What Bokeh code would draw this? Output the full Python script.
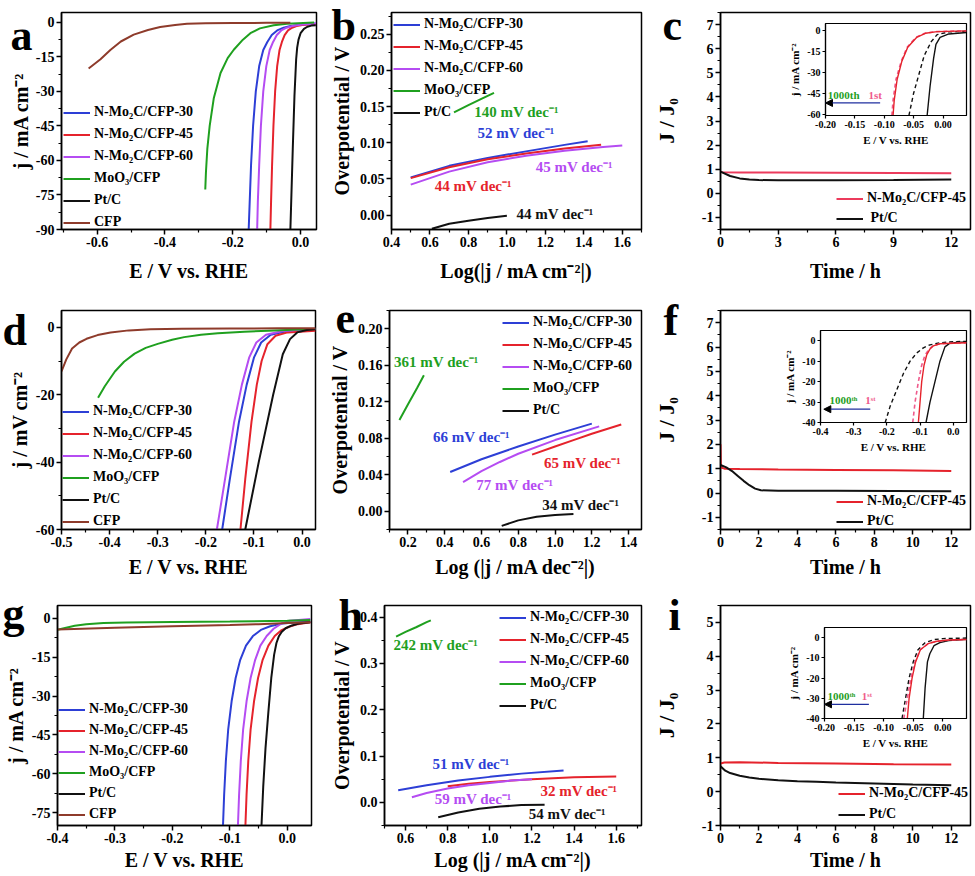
from bokeh.plotting import figure
from bokeh.models import (Range1d, FixedTicker, PrintfTickFormatter, Legend, LegendItem,
                          Label, Arrow, NormalHead, Row, Column)
from bokeh.core.properties import value
from bokeh.embed import file_html
from bokeh.resources import INLINE

FONT = "Liberation Serif"
BLUE = "#2D3FD6"
RED = "#E5232C"
PURPLE = "#B54CF2"
GREEN = "#1FA01F"
BLACK = "#111111"
BROWN = "#8E3B2B"
PINK = "#EF5A8C"
CRED = "#EC3B5C"

NAMES5 = ["N-Mo\u2082C/CFP-30", "N-Mo\u2082C/CFP-45", "N-Mo\u2082C/CFP-60", "MoO\u2083/CFP", "Pt/C"]
NAMES6 = NAMES5 + ["CFP"]
PANEL_LETTERS = ["a", "b", "c", "d", "e", "f", "g", "h", "i"]

# ---------------- panel a (LSV) ----------------
a_cfp_e = [-0.625, -0.59, -0.561, -0.53, -0.492, -0.45, -0.414, -0.37, -0.335, -0.28, -0.2, -0.1, -0.03]
a_cfp_j = [-20, -16, -12, -8.3, -5.3, -3.3, -2.0, -1.1, -0.6, -0.35, -0.25, -0.2, -0.2]
a_moo3_e = [-0.281, -0.279, -0.275, -0.268, -0.256, -0.236, -0.215, -0.197, -0.17, -0.148, -0.12, -0.079, -0.04, 0.04]
a_moo3_j = [-72.6, -65, -55, -45, -33, -22, -15.5, -11.9, -7.5, -4.7, -2.6, -1.2, -0.6, 0]
a_30_e = [-0.153, -0.150, -0.146, -0.140, -0.132, -0.122, -0.110, -0.098, -0.085, -0.069, -0.05, -0.03, 0.0, 0.045]
a_30_j = [-90, -78, -62, -45, -30, -19, -12, -8.5, -5.5, -3.5, -2.3, -1.6, -1.0, -0.5]
a_45_e = [-0.089, -0.087, -0.084, -0.080, -0.075, -0.069, -0.062, -0.055, -0.047, -0.037, -0.025, -0.012, 0.005, 0.045]
a_45_j = [-90, -78, -62, -45, -30, -19, -12, -8.5, -5.5, -3.5, -2.3, -1.6, -1.1, -0.7]
a_60_e = [-0.128, -0.126, -0.122, -0.117, -0.110, -0.101, -0.091, -0.081, -0.070, -0.057, -0.041, -0.024, -0.002, 0.045]
a_60_j = [-90, -78, -62, -45, -30, -19, -12, -8.5, -5.5, -3.5, -2.3, -1.6, -1.0, -0.5]
a_pt_e = [-0.030, -0.027, -0.023, -0.018, -0.013, -0.010, -0.006, 0.0, 0.01, 0.02, 0.032, 0.045]
a_pt_j = [-90, -75, -55, -32, -16, -11, -7.5, -4.7, -2.8, -1.9, -1.4, -1.2]

# ---------------- panel b (Tafel) ----------------
b_30_x = [0.50, 0.70, 0.90, 1.10, 1.30, 1.42]
b_30_y = [0.052, 0.068, 0.079, 0.088, 0.097, 0.102]
b_45_x = [0.50, 0.70, 0.90, 1.10, 1.30, 1.49]
b_45_y = [0.051, 0.066, 0.077, 0.085, 0.092, 0.097]
b_60_x = [0.50, 0.70, 0.90, 1.10, 1.30, 1.50, 1.60]
b_60_y = [0.042, 0.060, 0.073, 0.082, 0.089, 0.094, 0.096]
b_moo3_x = [0.725, 0.80, 0.87, 0.933]
b_moo3_y = [0.142, 0.152, 0.161, 0.169]
b_pt_x = [0.61, 0.70, 0.80, 0.90, 1.00]
b_pt_y = [-0.019, -0.012, -0.008, -0.004, -0.001]
b_slopes = ["52 mV dec\u207b\u00b9", "44 mV dec\u207b\u00b9", "45 mV dec\u207b\u00b9", "140 mV dec\u207b\u00b9", "44 mV dec\u207b\u00b9"]

# ---------------- panel c (stability) ----------------
c_mo_t = [0, 0.1, 1, 3, 6, 9, 12]
c_mo_r = [0.88, 0.87, 0.86, 0.86, 0.85, 0.84, 0.83]
c_pt_t = [0, 0.5, 1, 1.5, 2, 3, 6, 9, 12]
c_pt_r = [0.9, 0.72, 0.62, 0.57, 0.55, 0.54, 0.54, 0.55, 0.57]
ci_mo1_e = [-0.085, -0.083, -0.078, -0.070, -0.060, -0.045, -0.030, -0.010, 0.04]
ci_mo1_j = [-61, -50, -35, -22, -12, -5, -2, -0.8, -0.3]
ci_mo2_e = [-0.087, -0.085, -0.080, -0.071, -0.061, -0.046, -0.031, -0.011, 0.04]
ci_mo2_j = [-61, -50, -35, -22, -12, -5, -2, -0.8, -0.3]
ci_pt1_e = [-0.027, -0.022, -0.016, -0.012, -0.005, 0.01, 0.04]
ci_pt1_j = [-61, -40, -20, -10, -5, -2.5, -1.5]
ci_pt2_e = [-0.058, -0.050, -0.040, -0.032, -0.020, -0.010, 0.01, 0.04]
ci_pt2_j = [-61, -45, -30, -18, -8, -3, -1, -0.5]

# ---------------- panel d (LSV) ----------------
d_cfp_e = [-0.5, -0.49, -0.478, -0.463, -0.448, -0.425, -0.398, -0.36, -0.315, -0.25, -0.15, -0.05, 0.028]
d_cfp_j = [-13.1, -9.5, -6.3, -4.5, -3.4, -2.3, -1.5, -0.9, -0.55, -0.4, -0.35, -0.3, -0.3]
d_moo3_e = [-0.424, -0.41, -0.389, -0.37, -0.348, -0.325, -0.3, -0.27, -0.245, -0.21, -0.175, -0.12, -0.07, -0.02, 0.028]
d_moo3_j = [-20.9, -17.5, -13.1, -10.2, -7.8, -6.1, -4.9, -3.7, -2.9, -2.2, -1.75, -1.3, -1.0, -0.7, -0.5]
d_30_e = [-0.166, -0.150, -0.131, -0.115, -0.100, -0.085, -0.065, -0.030, 0.028]
d_30_j = [-60, -45, -28, -17, -9, -4.5, -2.2, -1.1, -0.5]
d_45_e = [-0.128, -0.118, -0.105, -0.094, -0.084, -0.072, -0.055, -0.030, 0.028]
d_45_j = [-60, -45, -28, -17, -10, -5, -2.5, -1.5, -1.0]
d_60_e = [-0.177, -0.160, -0.141, -0.125, -0.110, -0.095, -0.075, -0.040, 0.028]
d_60_j = [-60, -45, -28, -17, -9, -4.5, -2.2, -1.1, -0.4]
d_pt_e = [-0.118, -0.090, -0.060, -0.040, -0.025, -0.010, 0.010, 0.028]
d_pt_j = [-60, -40, -20, -8, -3.5, -1.5, -0.8, -0.6]

# ---------------- panel e (Tafel) ----------------
e_30_x = [0.43, 0.60, 0.80, 1.00, 1.20]
e_30_y = [0.043, 0.057, 0.071, 0.084, 0.096]
e_45_x = [0.875, 1.00, 1.10, 1.20, 1.36]
e_45_y = [0.062, 0.071, 0.078, 0.085, 0.095]
e_60_x = [0.50, 0.60, 0.70, 0.80, 1.00, 1.24]
e_60_y = [0.032, 0.044, 0.054, 0.063, 0.078, 0.093]
e_moo3_x = [0.154, 0.20, 0.25, 0.287]
e_moo3_y = [0.100, 0.117, 0.135, 0.149]
e_pt_x = [0.71, 0.80, 0.90, 1.00, 1.10]
e_pt_y = [-0.016, -0.010, -0.006, -0.004, -0.003]
e_slopes = ["66 mV dec\u207b\u00b9", "65 mV dec\u207b\u00b9", "77 mV dec\u207b\u00b9", "361 mV dec\u207b\u00b9", "34 mV dec\u207b\u00b9"]

# ---------------- panel f (stability) ----------------
f_mo_t = [0, 0.02, 0.2, 1, 3, 6, 9, 12]
f_mo_r = [2.0, 1.05, 1.0, 0.99, 0.97, 0.95, 0.93, 0.9]
f_pt_t = [0, 0.3, 0.6, 0.9, 1.2, 1.5, 1.8, 2.1, 3, 6, 9, 12]
f_pt_r = [1.15, 1.05, 0.9, 0.7, 0.5, 0.32, 0.18, 0.11, 0.09, 0.09, 0.08, 0.07]
fi_mo1_e = [-0.105, -0.100, -0.095, -0.088, -0.080, -0.070, -0.060, -0.040, 0.0, 0.04]
fi_mo1_j = [-40, -30, -20, -12, -7, -4, -2.5, -1.5, -1.2, -1.0]
fi_mo2_e = [-0.122, -0.115, -0.105, -0.095, -0.085, -0.072, -0.060, -0.040, 0.0, 0.04]
fi_mo2_j = [-40, -30, -20, -12, -7, -4, -2.5, -1.5, -1.2, -1.0]
fi_pt1_e = [-0.082, -0.070, -0.055, -0.040, -0.025, -0.010, 0.010, 0.04]
fi_pt1_j = [-40, -30, -20, -10, -3, -1.2, -0.8, -0.6]
fi_pt2_e = [-0.205, -0.190, -0.170, -0.150, -0.130, -0.110, -0.090, -0.070, -0.040, 0.0, 0.04]
fi_pt2_j = [-40, -32, -24, -16, -10, -6, -3.5, -2, -1, -0.5, -0.3]

# ---------------- panel g (LSV) ----------------
g_cfp_e = [-0.4, -0.3, -0.2, -0.1, -0.05, 0.0, 0.04]
g_cfp_j = [-4.3, -3.6, -3.0, -2.5, -2.2, -1.8, -1.5]
g_moo3_e = [-0.4, -0.385, -0.37, -0.35, -0.32, -0.28, -0.2, -0.1, 0.0, 0.04]
g_moo3_j = [-4.4, -3.6, -2.8, -2.2, -1.8, -1.6, -1.4, -1.2, -0.9, -0.6]
g_30_e = [-0.112, -0.110, -0.107, -0.103, -0.097, -0.090, -0.082, -0.072, -0.06, -0.045, -0.03, -0.01, 0.04]
g_30_j = [-80, -68, -55, -43, -32, -23, -16, -10.5, -6.8, -4.3, -3.0, -2.0, -1.2]
g_45_e = [-0.073, -0.071, -0.068, -0.064, -0.058, -0.051, -0.043, -0.033, -0.022, -0.01, 0.003, 0.018, 0.04]
g_45_j = [-80, -68, -55, -43, -32, -23, -16, -10.5, -6.8, -4.5, -3.2, -2.2, -1.5]
g_60_e = [-0.086, -0.084, -0.081, -0.077, -0.071, -0.064, -0.056, -0.047, -0.036, -0.024, -0.012, 0.004, 0.04]
g_60_j = [-80, -68, -55, -43, -32, -23, -16, -10.5, -6.8, -4.0, -2.2, -0.9, -0.2]
g_pt_e = [-0.045, -0.042, -0.038, -0.033, -0.028, -0.023, -0.019, -0.015, -0.01, -0.003, 0.008, 0.02, 0.04]
g_pt_j = [-80, -65, -50, -36, -23, -14, -9.5, -7, -5.2, -3.8, -2.7, -2.0, -1.5]

# ---------------- panel h (Tafel) ----------------
h_30_x = [0.565, 0.70, 0.85, 1.00, 1.15, 1.35]
h_30_y = [0.026, 0.037, 0.047, 0.055, 0.062, 0.069]
h_45_x = [0.80, 0.90, 1.00, 1.20, 1.40, 1.60]
h_45_y = [0.035, 0.040, 0.044, 0.050, 0.054, 0.056]
h_60_x = [0.63, 0.70, 0.80, 0.90, 1.00, 1.10, 1.20]
h_60_y = [0.011, 0.020, 0.030, 0.037, 0.042, 0.047, 0.050]
h_moo3_x = [0.555, 0.60, 0.65, 0.70, 0.72]
h_moo3_y = [0.358, 0.368, 0.378, 0.389, 0.393]
h_pt_x = [0.755, 0.85, 0.95, 1.05, 1.15, 1.26]
h_pt_y = [-0.032, -0.022, -0.014, -0.009, -0.006, -0.005]
h_slopes = ["51 mV dec\u207b\u00b9", "32 mV dec\u207b\u00b9", "59 mV dec\u207b\u00b9", "242 mV dec\u207b\u00b9", "54 mV dec\u207b\u00b9"]

# ---------------- panel i (stability) ----------------
i_mo_t = [0, 0.2, 1, 3, 6, 9, 12]
i_mo_r = [0.83, 0.86, 0.87, 0.85, 0.83, 0.81, 0.80]
i_pt_t = [0, 0.25, 0.5, 1, 1.5, 2, 3, 4, 5, 6, 8, 10, 12]
i_pt_r = [0.75, 0.62, 0.55, 0.47, 0.42, 0.38, 0.34, 0.31, 0.29, 0.27, 0.24, 0.21, 0.19]
ii_mo1_e = [-0.060, -0.057, -0.052, -0.046, -0.038, -0.025, -0.010, 0.010, 0.04]
ii_mo1_j = [-40, -30, -20, -12, -6, -3, -1.8, -1.2, -0.9]
ii_mo2_e = [-0.066, -0.060, -0.054, -0.047, -0.038, -0.025, -0.010, 0.010, 0.04]
ii_mo2_j = [-40, -30, -20, -12, -6, -3, -1.8, -1.2, -0.9]
ii_pt1_e = [-0.033, -0.030, -0.026, -0.022, -0.015, -0.005, 0.010, 0.04]
ii_pt1_j = [-40, -25, -12, -8, -4, -2.5, -1.5, -0.8]
ii_pt2_e = [-0.069, -0.063, -0.057, -0.050, -0.042, -0.030, -0.015, 0.0, 0.04]
ii_pt2_j = [-40, -30, -20, -12, -6, -2.5, -1, -0.5, -0.2]

# ---------------- layout helpers ----------------
PAGE_W, PAGE_H = 975, 876
COLS = [(0, 325), (325, 650), (650, 975)]
ROWS = [(0, 292), (292, 584), (584, 876)]
FRAME_H = {}


def main_fig(col, row, L, R, T, B, xr, yr):
    x0, x1 = COLS[col]
    y0, y1 = ROWS[row]
    p = figure(width=x1 - x0, height=y1 - y0, x_range=Range1d(*xr), y_range=Range1d(*yr),
               output_backend="svg", toolbar_location=None, title=None,
               min_border_left=L - x0, min_border_right=x1 - R,
               min_border_top=T - y0, min_border_bottom=y1 - B,
               background_fill_color="white", border_fill_color="white")
    FRAME_H[p.id] = B - T
    return p


def style(p, xt, xm, yt, ym, xf, yf, xlab, ylab, tick_size="14px", lab_size="20px",
          ylab_size=None, lw=1.5, tout=5, mout=3, lstand=2, xastand=10, yastand=4):
    p.xaxis.ticker = FixedTicker(ticks=xt, minor_ticks=xm)
    p.yaxis.ticker = FixedTicker(ticks=yt, minor_ticks=ym)
    p.xaxis.formatter = PrintfTickFormatter(format=xf)
    p.yaxis.formatter = PrintfTickFormatter(format=yf)
    p.xaxis.axis_label = xlab
    p.yaxis.axis_label = ylab
    for ax in list(p.xaxis) + list(p.yaxis):
        ax.axis_label_text_font = FONT
        ax.axis_label_text_font_style = "bold"
        ax.axis_label_text_font_size = lab_size
        ax.axis_label_text_color = "black"
        ax.major_label_text_font = FONT
        ax.major_label_text_font_style = "bold"
        ax.major_label_text_font_size = tick_size
        ax.major_label_text_color = "black"
        ax.axis_line_width = lw
        ax.axis_line_color = "black"
        ax.major_tick_line_width = lw
        ax.minor_tick_line_width = lw * 0.8
        ax.major_tick_line_color = "black"
        ax.minor_tick_line_color = "black"
        ax.major_tick_in = 0
        ax.major_tick_out = tout
        ax.minor_tick_in = 0
        ax.minor_tick_out = mout
        ax.major_label_standoff = lstand
    p.xaxis.axis_label_standoff = xastand
    p.yaxis.axis_label_standoff = yastand
    if ylab_size:
        p.yaxis.axis_label_text_font_size = ylab_size
    p.xgrid.visible = False
    p.ygrid.visible = False
    p.outline_line_color = "black"
    p.outline_line_width = lw
    p.outline_line_alpha = 1.0


def legend(p, rends, names, x_off, first_center, pitch, size="14px"):
    n = len(rends)
    lh = 17
    spacing = int(round(pitch - lh))
    total = n * lh + (n - 1) * spacing
    top = first_center - lh / 2
    y = FRAME_H[p.id] - top - total
    leg = Legend(items=[LegendItem(label=nm, renderers=[r]) for nm, r in zip(names, rends)],
                 location=(x_off, y), border_line_color=None, background_fill_alpha=0,
                 label_text_font=FONT, label_text_font_style="bold", label_text_font_size=size,
                 label_text_color="black", glyph_width=27, glyph_height=lh, label_height=lh,
                 spacing=spacing, padding=0, margin=0, label_standoff=4)
    p.add_layout(leg)


def note(p, x, y, text, color, size="15px"):
    p.add_layout(Label(x=x, y=y, text=text, text_color=color, text_font=FONT,
                       text_font_style="bold", text_font_size=size, text_baseline="middle"))


def inset(row, L, R, T, B, xr, yr, xt, yt, xf, yf):
    bl, br, bt, bb = 36, 3, 2, 34
    fx0 = L - bl
    W = R + br - fx0
    fy0 = T - bt
    H = B + bb - fy0
    p = figure(width=W, height=H, x_range=Range1d(*xr), y_range=Range1d(*yr),
               output_backend="svg", toolbar_location=None, title=None,
               min_border_left=bl, min_border_right=br, min_border_top=bt, min_border_bottom=bb,
               background_fill_color="white", border_fill_color=None)
    p.margin = (fy0 - ROWS[row][0], 0, 0, fx0 - PAGE_W)
    style(p, xt, [], yt, [], xf, yf, "E / V vs. RHE", "j / mA cm\u207b\u00b2",
          tick_size="10px", lab_size="11px", lw=1.2, tout=3, mout=2, lstand=2,
          xastand=3, yastand=3)
    return p


def arrow_note(p, xs, xe, y, ytext, x1, x2, t1, t2):
    p.add_layout(Arrow(end=NormalHead(size=7, fill_color="black", line_color="black"),
                       x_start=xs, y_start=y, x_end=xe, y_end=y,
                       line_color="#1F2F9F", line_width=1.3))
    p.add_layout(Label(x=x1, y=ytext, text=t1, text_color=GREEN, text_font=FONT,
                       text_font_style="bold", text_font_size="11px", text_baseline="middle"))
    p.add_layout(Label(x=x2, y=ytext, text=t2, text_color=PINK, text_font=FONT,
                       text_font_style="bold", text_font_size="11px", text_baseline="middle"))


LW = 2

# ================= panel a =================
pa = main_fig(0, 0, 61, 316, 12, 233, (-0.705, 0.047), (-90, 4.3))
style(pa, [-0.6, -0.4, -0.2, 0.0], [-0.7, -0.5, -0.3, -0.1], [0, -15, -30, -45, -60, -75, -90],
      [-7.5, -22.5, -37.5, -52.5, -67.5, -82.5], "%.1f", "%d", "E / V vs. RHE", "j / mA cm\u207b\u00b2",
      yastand=1)
ra = [pa.line(a_30_e, a_30_j, color=BLUE, line_width=LW),
      pa.line(a_45_e, a_45_j, color=RED, line_width=LW),
      pa.line(a_60_e, a_60_j, color=PURPLE, line_width=LW),
      pa.line(a_moo3_e, a_moo3_j, color=GREEN, line_width=LW),
      pa.line(a_pt_e, a_pt_j, color=BLACK, line_width=LW),
      pa.line(a_cfp_e, a_cfp_j, color=BROWN, line_width=LW)]
legend(pa, ra, NAMES6, 2, 104, 21.6)

# ================= panel b =================
pb = main_fig(1, 0, 391, 641, 12, 229, (0.4, 1.7), (-0.02, 0.28))
style(pb, [0.4, 0.6, 0.8, 1.0, 1.2, 1.4, 1.6], [0.5, 0.7, 0.9, 1.1, 1.3, 1.5, 1.7],
      [0.0, 0.05, 0.10, 0.15, 0.20, 0.25], [0.025, 0.075, 0.125, 0.175, 0.225, 0.275, -0.025],
      "%.1f", "%.2f", "Log(|j / mA cm\u207b\u00b2|)", "Overpotential / V")
rb = [pb.line(b_30_x, b_30_y, color=BLUE, line_width=LW),
      pb.line(b_45_x, b_45_y, color=RED, line_width=LW),
      pb.line(b_60_x, b_60_y, color=PURPLE, line_width=LW),
      pb.line(b_moo3_x, b_moo3_y, color=GREEN, line_width=LW),
      pb.line(b_pt_x, b_pt_y, color=BLACK, line_width=LW)]
legend(pb, rb, NAMES5, 2, 12, 21.8)
note(pb, 0.847, 0.113, b_slopes[0], BLUE)
note(pb, 0.625, 0.040, b_slopes[1], RED)
note(pb, 1.15, 0.066, b_slopes[2], PURPLE)
note(pb, 0.83, 0.142, b_slopes[3], GREEN)
note(pb, 1.05, 0.001, b_slopes[4], BLACK)

# ================= panel c =================
pc = main_fig(2, 0, 710, 970, 12, 232, (0, 13), (-1.5, 7.5))
style(pc, [0, 3, 6, 9, 12], [1.5, 4.5, 7.5, 10.5], list(range(-1, 8)),
      [-1.5, -0.5, 0.5, 1.5, 2.5, 3.5, 4.5, 5.5, 6.5, 7.5], "%d", "%d", "Time / h", "J / J\u2080",
      ylab_size="22px", yastand=20)
rc = [pc.line(c_mo_t, c_mo_r, color=CRED, line_width=LW),
      pc.line(c_pt_t, c_pt_r, color=BLACK, line_width=LW)]
legend(pc, rc, ["N-Mo\u2082C/CFP-45", " Pt/C"], 116, 189, 20)

ic = inset(0, 822, 966, 13, 144, (-0.2, 0.04), (-61, 5), [-0.2, -0.15, -0.1, -0.05, 0.0],
           [0, -15, -30, -45, -60], "%.2f", "%d")
ic.line(ci_pt2_e, ci_pt2_j, color=BLACK, line_width=1.4, line_dash="4 3")
ic.line(ci_pt1_e, ci_pt1_j, color=BLACK, line_width=1.4)
ic.line(ci_mo2_e, ci_mo2_j, color=PINK, line_width=1.6, line_dash="4 3")
ic.line(ci_mo1_e, ci_mo1_j, color=RED, line_width=1.4)
arrow_note(ic, -0.107, -0.2, -52, -46, -0.196, -0.127, "1000th", "1st")

# ================= panel d =================
pd_ = main_fig(0, 1, 61, 315, 310, 532, (-0.5, 0.028), (-60, 5))
style(pd_, [-0.5, -0.4, -0.3, -0.2, -0.1, 0.0], [-0.45, -0.35, -0.25, -0.15, -0.05],
      [0, -20, -40, -60], [-10, -30, -50], "%.1f", "%d", "E / V vs. RHE", "j / mV cm\u207b\u00b2",
      xastand=6, yastand=2)
rd = [pd_.line(d_30_e, d_30_j, color=BLUE, line_width=LW),
      pd_.line(d_45_e, d_45_j, color=RED, line_width=LW),
      pd_.line(d_60_e, d_60_j, color=PURPLE, line_width=LW),
      pd_.line(d_moo3_e, d_moo3_j, color=GREEN, line_width=LW),
      pd_.line(d_pt_e, d_pt_j, color=BLACK, line_width=LW),
      pd_.line(d_cfp_e, d_cfp_j, color=BROWN, line_width=LW)]
legend(pd_, rd, NAMES6, 1, 104, 21.6)

# ================= panel e =================
pe = main_fig(1, 1, 388, 641, 310, 529, (0.1, 1.47), (-0.02, 0.22))
style(pe, [0.2, 0.4, 0.6, 0.8, 1.0, 1.2, 1.4], [0.1, 0.3, 0.5, 0.7, 0.9, 1.1, 1.3],
      [0.0, 0.04, 0.08, 0.12, 0.16, 0.20], [-0.02, 0.02, 0.06, 0.10, 0.14, 0.18, 0.22],
      "%.1f", "%.2f", "Log (|j / mA dec\u207b\u00b2|)", "Overpotential / V", xastand=6)
re_ = [pe.line(e_30_x, e_30_y, color=BLUE, line_width=LW),
       pe.line(e_45_x, e_45_y, color=RED, line_width=LW),
       pe.line(e_60_x, e_60_y, color=PURPLE, line_width=LW),
       pe.line(e_moo3_x, e_moo3_y, color=GREEN, line_width=LW),
       pe.line(e_pt_x, e_pt_y, color=BLACK, line_width=LW)]
legend(pe, re_, NAMES5, 113, 12, 21.9)
note(pe, 0.336, 0.0815, e_slopes[0], BLUE)
note(pe, 0.94, 0.0526, e_slopes[1], RED)
note(pe, 0.572, 0.029, e_slopes[2], PURPLE)
note(pe, 0.125, 0.164, e_slopes[3], GREEN)
note(pe, 0.93, 0.0065, e_slopes[4], BLACK)

# ================= panel f =================
pf = main_fig(2, 1, 709, 970, 310, 532, (0, 13), (-1.5, 7.5))
style(pf, [0, 2, 4, 6, 8, 10, 12], [1, 3, 5, 7, 9, 11], list(range(-1, 8)),
      [-1.5, -0.5, 0.5, 1.5, 2.5, 3.5, 4.5, 5.5, 6.5, 7.5], "%d", "%d", "Time / h", "J / J\u2080",
      ylab_size="22px", xastand=6, yastand=20)
rf = [pf.line(f_mo_t, f_mo_r, color=RED, line_width=LW),
      pf.line(f_pt_t, f_pt_r, color=BLACK, line_width=LW)]
legend(pf, rf, ["N-Mo\u2082C/CFP-45", "Pt/C"], 116, 194, 20)

if_ = inset(1, 817, 966, 314, 443, (-0.4, 0.04), (-40, 5), [-0.4, -0.3, -0.2, -0.1, 0.0],
            [0, -10, -20, -30, -40], "%.1f", "%d")
if_.line(fi_pt2_e, fi_pt2_j, color=BLACK, line_width=1.4, line_dash="4 3")
if_.line(fi_pt1_e, fi_pt1_j, color=BLACK, line_width=1.4)
if_.line(fi_mo2_e, fi_mo2_j, color=PINK, line_width=1.6, line_dash="4 3")
if_.line(fi_mo1_e, fi_mo1_j, color=RED, line_width=1.4)
arrow_note(if_, -0.25, -0.39, -33.5, -29, -0.373, -0.265, "1000\u1d57\u02b0", "1\u02e2\u1d57")

# ================= panel g =================
pg = main_fig(0, 2, 57, 311, 604, 827, (-0.4, 0.042), (-80, 5))
style(pg, [-0.4, -0.3, -0.2, -0.1, 0.0], [-0.35, -0.25, -0.15, -0.05],
      [0, -15, -30, -45, -60, -75], [-7.5, -22.5, -37.5, -52.5, -67.5], "%.1f", "%d",
      "E / V vs. RHE", "j / mA cm\u207b\u00b2", xastand=3, yastand=2)
rg = [pg.line(g_30_e, g_30_j, color=BLUE, line_width=LW),
      pg.line(g_45_e, g_45_j, color=RED, line_width=LW),
      pg.line(g_60_e, g_60_j, color=PURPLE, line_width=LW),
      pg.line(g_moo3_e, g_moo3_j, color=GREEN, line_width=LW),
      pg.line(g_pt_e, g_pt_j, color=BLACK, line_width=LW),
      pg.line(g_cfp_e, g_cfp_j, color=BROWN, line_width=LW)]
legend(pg, rg, NAMES6, 1, 107, 21.3)

# ================= panel h =================
ph = main_fig(1, 2, 384, 641, 603, 825, (0.5, 1.72), (-0.05, 0.425))
style(ph, [0.6, 0.8, 1.0, 1.2, 1.4, 1.6], [0.5, 0.7, 0.9, 1.1, 1.3, 1.5, 1.7],
      [0.0, 0.1, 0.2, 0.3, 0.4], [-0.05, 0.05, 0.15, 0.25, 0.35], "%.1f", "%.1f",
      "Log (|j / mA cm\u207b\u00b2|)", "Overpotential / V", xastand=3)
rh = [ph.line(h_30_x, h_30_y, color=BLUE, line_width=LW),
      ph.line(h_45_x, h_45_y, color=RED, line_width=LW),
      ph.line(h_60_x, h_60_y, color=PURPLE, line_width=LW),
      ph.line(h_moo3_x, h_moo3_y, color=GREEN, line_width=LW),
      ph.line(h_pt_x, h_pt_y, color=BLACK, line_width=LW)]
legend(ph, rh, NAMES5, 115, 14, 22.3)
note(ph, 0.728, 0.082, h_slopes[0], BLUE)
note(ph, 1.24, 0.025, h_slopes[1], RED)
note(ph, 0.738, 0.008, h_slopes[2], PURPLE)
note(ph, 0.543, 0.34, h_slopes[3], GREEN)
note(ph, 1.185, -0.025, h_slopes[4], BLACK)

# ================= panel i =================
pi = main_fig(2, 2, 710, 970, 605, 827, (0, 13), (-1, 5.5))
style(pi, [0, 2, 4, 6, 8, 10, 12], [1, 3, 5, 7, 9, 11], list(range(-1, 6)),
      [-0.5, 0.5, 1.5, 2.5, 3.5, 4.5, 5.5], "%d", "%d", "Time / h", "J / J\u2080",
      ylab_size="22px", xastand=3, yastand=20)
ri = [pi.line(i_mo_t, i_mo_r, color=RED, line_width=LW),
      pi.line(i_pt_t, i_pt_r, color=BLACK, line_width=LW)]
legend(pi, ri, ["N-Mo\u2082C/CFP-45", "Pt/C"], 118, 190, 20.6)

ii = inset(2, 821, 966, 608, 735, (-0.2, 0.04), (-40, 5), [-0.2, -0.15, -0.1, -0.05, 0.0],
           [0, -10, -20, -30, -40], "%.2f", "%d")
ii.line(ii_pt2_e, ii_pt2_j, color=BLACK, line_width=1.4, line_dash="4 3")
ii.line(ii_pt1_e, ii_pt1_j, color=BLACK, line_width=1.4)
ii.line(ii_mo2_e, ii_mo2_j, color=PINK, line_width=1.6, line_dash="4 3")
ii.line(ii_mo1_e, ii_mo1_j, color=RED, line_width=1.4)
arrow_note(ii, -0.125, -0.2, -33, -29, -0.195, -0.137, "1000\u1d57\u02b0", "1\u02e2\u1d57")

# ================= panel letters (transparent overlay in page pixels) =================
ov = figure(width=PAGE_W, height=PAGE_H, x_range=Range1d(0, PAGE_W), y_range=Range1d(PAGE_H, 0),
            output_backend="svg", toolbar_location=None, title=None,
            x_axis_location=None, y_axis_location=None, min_border=0,
            background_fill_color=None, border_fill_color=None, outline_line_color=None)
ov.xgrid.visible = False
ov.ygrid.visible = False
ov.text(x=[10, 331, 662, 2, 335, 663, 2, 338, 668],
        y=[35, 25, 25, 330, 318, 320, 613, 615, 615],
        text=PANEL_LETTERS, text_font=value(FONT), text_font_style="bold",
        text_font_size="44px", text_baseline="middle", text_align="left", text_color="black")
ov.margin = (-PAGE_H, 0, 0, 0)

layout = Column(children=[Row(children=[pa, pb, pc, ic], spacing=0),
                          Row(children=[pd_, pe, pf, if_], spacing=0),
                          Row(children=[pg, ph, pi, ii], spacing=0),
                          ov], spacing=0)

open("out.html", "w").write(file_html(layout, INLINE))
